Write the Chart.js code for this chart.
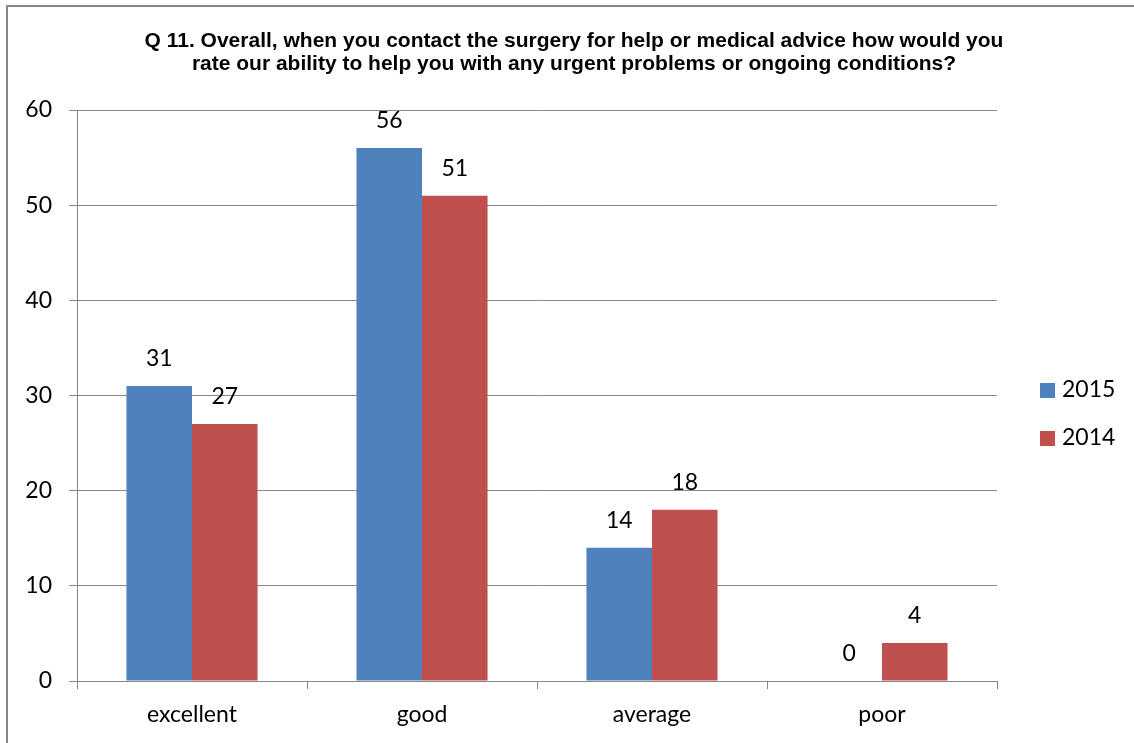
<!DOCTYPE html>
<html>
<head>
<meta charset="utf-8">
<script src="https://cdn.jsdelivr.net/npm/chart.js@4/dist/chart.umd.min.js"></script>
<style>
  html, body { margin: 0; padding: 0; background: #fff; }
</style>
</head>
<body>
<canvas id="chart" width="1134" height="743"></canvas>
<script>
// survey answers, counted per year
const ratings = ['excellent', 'good', 'average', 'poor'];
const years = ['2015', '2014'];
const counts2015 = [31, 56, 14, 0];
const counts2014 = [27, 51, 18, 4];
const yTicks = [0, 10, 20, 30, 40, 50, 60];
const titleLines = [
    'Q 11. Overall, when you contact the surgery for help or medical advice how would you',
    'rate our ability to help you with any urgent problems or ongoing conditions?'
];

const blue = '#4f81bd';
const red = '#c0504d';
const lineGrey = '#878787';
const labelFont = '23px Lato';

// frame, title, value labels and legend drawn straight onto the canvas
const extras = {
    id: 'extras',
    beforeDraw(chart) {
        const ctx = chart.ctx;
        ctx.save();
        ctx.fillStyle = '#fff';
        ctx.fillRect(0, 0, chart.width, chart.height);
        ctx.strokeStyle = lineGrey;
        ctx.lineWidth = 2;
        ctx.strokeRect(7, 6, 1300, 900);
        ctx.restore();
    },
    afterDatasetsDraw(chart) {
        const ctx = chart.ctx;
        ctx.save();
        ctx.font = labelFont;
        ctx.fillStyle = '#000';
        ctx.textAlign = 'center';
        ctx.textBaseline = 'middle';
        chart.data.datasets.forEach((ds, i) => {
            chart.getDatasetMeta(i).data.forEach((bar, j) => {
                ctx.fillText(String(ds.data[j]), bar.x, bar.y - 27);
            });
        });
        ctx.restore();
    },
    afterDraw(chart) {
        const ctx = chart.ctx;
        ctx.save();
        ctx.fillStyle = '#000';
        ctx.font = 'bold 21px "Liberation Sans", Arial, sans-serif';
        ctx.textAlign = 'center';
        ctx.textBaseline = 'alphabetic';
        ctx.fillText(titleLines[0], 574, 47);
        ctx.fillText(titleLines[1], 574, 70);

        ctx.font = labelFont;
        ctx.textAlign = 'left';
        ctx.textBaseline = 'middle';
        chart.data.datasets.forEach((ds, i) => {
            const cy = 390 + i * 48;
            ctx.fillStyle = ds.backgroundColor;
            ctx.fillRect(1040, cy - 7, 15, 15);
            ctx.fillStyle = '#000';
            ctx.fillText(ds.label, 1062, cy);
        });
        ctx.restore();
    }
};

const ctx = document.getElementById('chart').getContext('2d');
const myChart = new Chart(ctx, {
    type: 'bar',
    data: {
        labels: ratings,
        datasets: [{
            label: years[0],
            data: counts2015,
            backgroundColor: blue
        }, {
            label: years[1],
            data: counts2014,
            backgroundColor: red
        }]
    },
    options: {
        responsive: false,
        animation: false,
        devicePixelRatio: 1,
        categoryPercentage: 0.57,
        barPercentage: 1,
        layout: { padding: { top: 110, left: 14, right: 137, bottom: 0 } },
        plugins: {
            legend: { display: false },
            title: { display: false },
            tooltip: { enabled: false }
        },
        scales: {
            x: {
                grid: {
                    offset: true,
                    drawOnChartArea: false,
                    drawTicks: true,
                    tickLength: 8,
                    color: lineGrey
                },
                border: { color: lineGrey },
                ticks: {
                    font: { family: 'Lato', size: 23 },
                    color: '#000',
                    padding: 12
                },
                afterFit(scale) {
                    scale.height = 62;
                    scale.paddingLeft = 0;
                    scale.paddingRight = 0;
                }
            },
            y: {
                min: yTicks[0],
                max: yTicks[yTicks.length - 1],
                grid: {
                    color: lineGrey,
                    tickLength: 8
                },
                border: { color: lineGrey },
                ticks: {
                    stepSize: yTicks[1] - yTicks[0],
                    font: { family: 'Lato', size: 23 },
                    color: '#000',
                    padding: 17
                },
                afterFit(scale) {
                    scale.width = 63;
                    scale.paddingTop = 0;
                    scale.paddingBottom = 0;
                }
            }
        }
    },
    plugins: [extras]
});
</script>
</body>
</html>
